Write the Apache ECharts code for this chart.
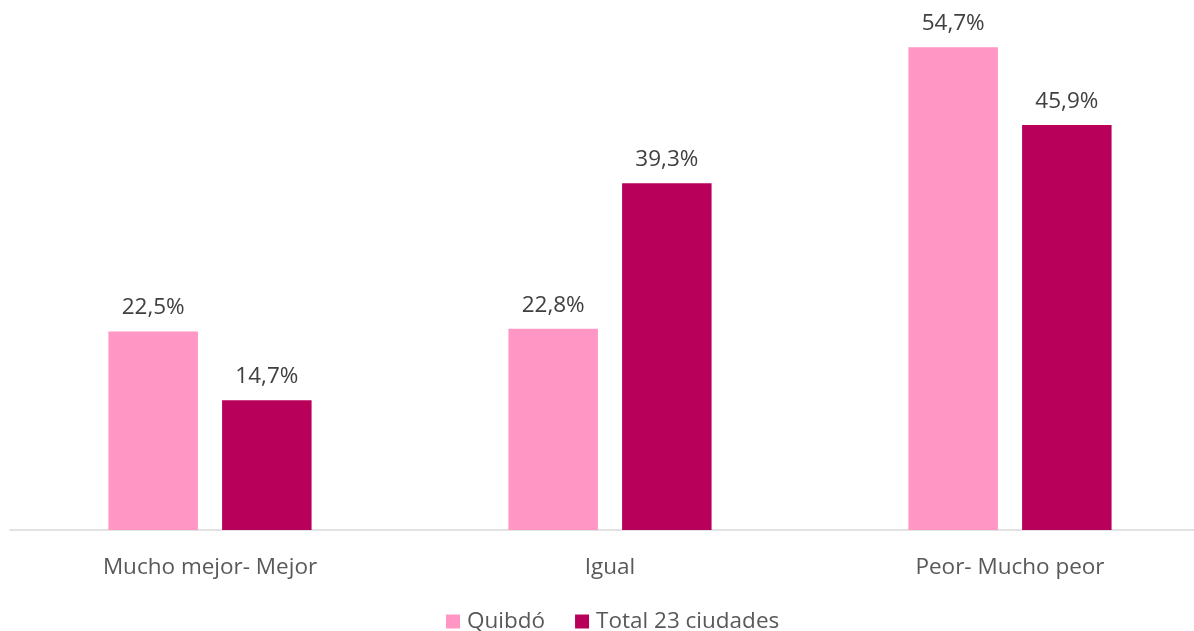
<!DOCTYPE html>
<html><head><meta charset="utf-8">
<script src="https://cdn.jsdelivr.net/npm/echarts@6/dist/echarts.min.js"></script>
<style>html,body{margin:0;padding:0;background:#fff;overflow:hidden;width:1194px;height:631px}#c{width:1210px;height:631px}</style>
</head><body><div id="c"></div>
<script>
const categories = ["Mucho mejor- Mejor", "Igual", "Peor- Mucho peor"];
const quibdo = [22.5, 22.8, 54.7];
const total23 = [14.7, 39.3, 45.9];
const seriesNames = ["Quibdó", "Total 23 ciudades"];

const FONT = "'Open Sans', 'Noto Sans', sans-serif";
const FS = 22.5;
const fmt = p => p.value.toFixed(1).replace('.', ',') + '%';
const chart = echarts.init(document.getElementById('c'), null, {renderer: 'canvas'});
chart.setOption({
  animation: false,
  textStyle: {fontFamily: FONT},
  grid: {left: 10, top: 0.5, right: 0, bottom: 101, containLabel: false},
  legend: {
    data: seriesNames, left: 441, top: 605,
    icon: 'rect', itemWidth: 14, itemHeight: 14, itemGap: 30,
    textStyle: {fontFamily: FONT, fontSize: FS, color: '#595959', padding: [0, 0, 0, 2]}
  },
  xAxis: {
    type: 'category', data: categories,
    axisLine: {lineStyle: {color: '#d9d9d9', width: 1.5}},
    axisTick: {show: false},
    axisLabel: {fontFamily: FONT, fontSize: FS, color: '#595959', margin: 26}
  },
  yAxis: {type: 'value', min: 0, max: 60, show: false, splitLine: {show: false}},
  series: [
    {name: seriesNames[0], type: 'bar', data: quibdo, barWidth: 89.5, barGap: '27%',
     itemStyle: {color: '#FF96C3'},
     label: {show: true, position: 'top', distance: 12, formatter: fmt, fontFamily: FONT, fontSize: FS, color: '#404040'}},
    {name: seriesNames[1], type: 'bar', data: total23, barWidth: 89.5,
     itemStyle: {color: '#B8005A'},
     label: {show: true, position: 'top', distance: 12, formatter: fmt, fontFamily: FONT, fontSize: FS, color: '#404040'}}
  ]
});
</script></body></html>
